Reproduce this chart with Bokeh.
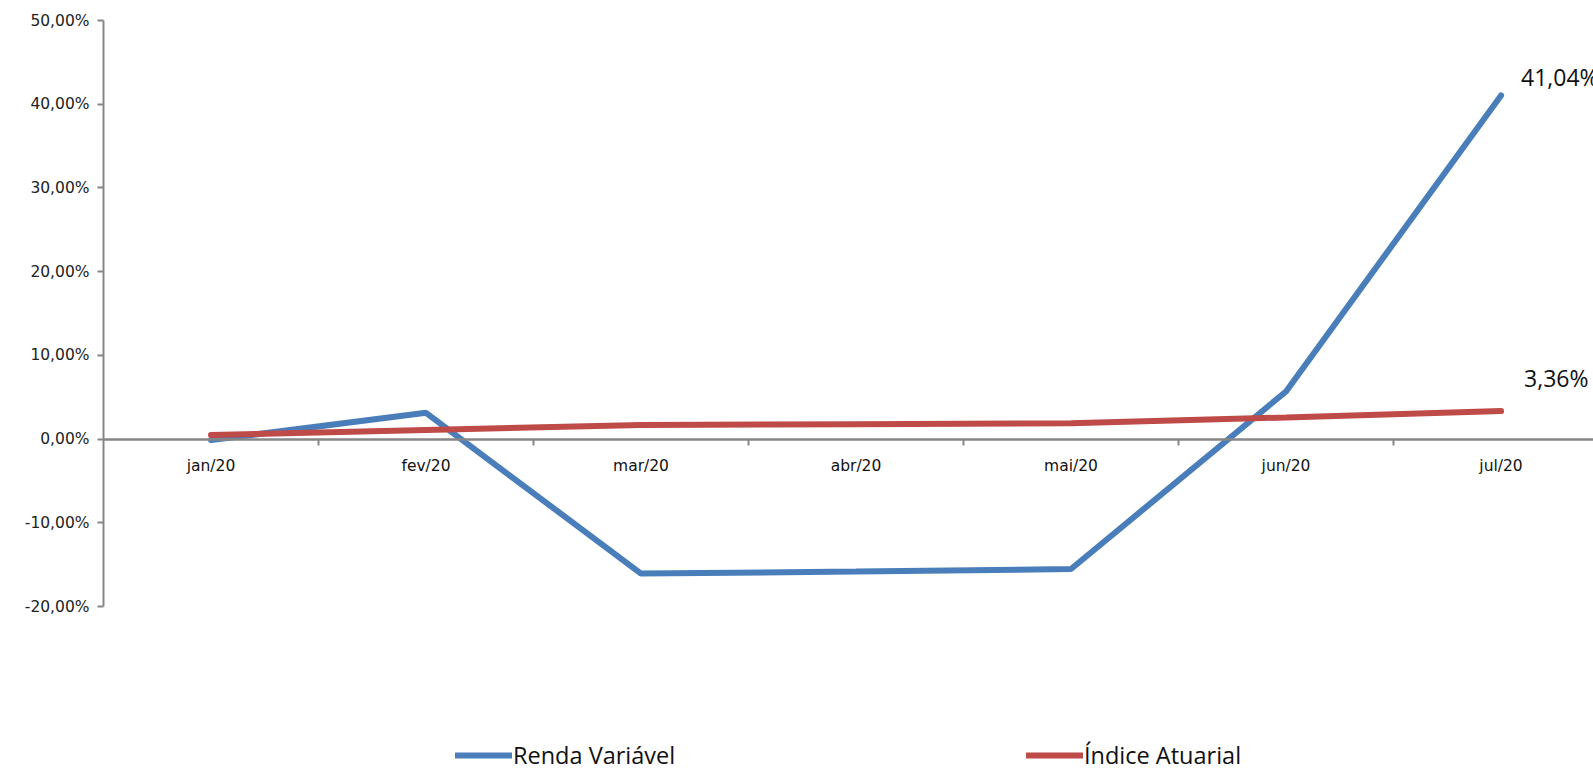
from bokeh.plotting import figure
from bokeh.models import (FixedTicker, CustomJSTickFormatter, LinearAxis, Legend, LegendItem, ColumnDataSource, Range1d)
from bokeh.core.properties import value
from bokeh.embed import file_html
from bokeh.resources import INLINE

months = ["jan/20", "fev/20", "mar/20", "abr/20", "mai/20", "jun/20", "jul/20"]
renda_variavel = [-0.10, 3.15, -16.05, -15.80, -15.50, 5.70, 41.04]
indice_atuarial = [0.50, 1.10, 1.70, 1.80, 1.90, 2.60, 3.36]
y_ticks = [-20, -10, 0, 10, 20, 30, 40, 50]

xs = list(range(len(months)))
FONT = "Open Sans"
AXFONT = "DejaVu Sans"
AXIS_COLOR = "#868686"
BLUE = "#4A7EBB"
RED = "#BE4B48"

# frame runs to the bottom of the page so the legend (inside the frame) is not clipped;
# the y axis line itself is limited to -20%..50% with bounds.
p = figure(width=1593, height=769, output_backend="svg", toolbar_location=None,
           x_range=Range1d(-0.5, 6.43), y_range=Range1d(-39.44, 50),
           x_axis_type=None, y_axis_type=None)
p.min_border_left = 103
p.min_border_right = 0
p.min_border_top = 20
p.min_border_bottom = 0
p.outline_line_color = None
p.grid.visible = False
p.background_fill_color = "white"
p.border_fill_color = "white"

# y axis
yax = LinearAxis(ticker=FixedTicker(ticks=y_ticks, minor_ticks=[]),
                 formatter=CustomJSTickFormatter(code="return tick.toFixed(2).replace('.', ',') + '%';"),
                 bounds=(y_ticks[0], y_ticks[-1]))
yax.axis_line_color = AXIS_COLOR
yax.axis_line_width = 2
yax.major_tick_line_color = AXIS_COLOR
yax.major_tick_line_width = 2
yax.major_tick_out = 6
yax.major_tick_in = 0
yax.minor_tick_line_color = None
yax.major_label_standoff = 8
yax.major_label_text_font = AXFONT
yax.major_label_text_font_size = "15.5px"
yax.major_label_text_color = "#222222"
p.add_layout(yax, "left")

# x axis with labels (at y = 0)
xlab = LinearAxis(ticker=FixedTicker(ticks=xs, minor_ticks=[]),
                  major_label_overrides={i: m for i, m in enumerate(months)},
                  fixed_location=0)
xlab.axis_line_color = AXIS_COLOR
xlab.axis_line_width = 2
xlab.major_tick_line_color = None
xlab.major_tick_out = 0
xlab.major_tick_in = 0
xlab.minor_tick_line_color = None
xlab.major_label_standoff = 18
xlab.major_label_text_font = AXFONT
xlab.major_label_text_font_size = "15.5px"
xlab.major_label_text_color = "#111111"
p.add_layout(xlab, "below")

# x axis tick marks between categories
boundaries = [i + 0.5 for i in xs[:-1]]
xtk = LinearAxis(ticker=FixedTicker(ticks=boundaries, minor_ticks=[]), fixed_location=0)
xtk.axis_line_color = AXIS_COLOR
xtk.axis_line_width = 2
xtk.major_tick_line_color = AXIS_COLOR
xtk.major_tick_line_width = 2
xtk.major_tick_out = 6
xtk.major_tick_in = 0
xtk.minor_tick_line_color = None
xtk.major_label_text_color = None
p.add_layout(xtk, "below")

src = ColumnDataSource(dict(x=xs, rv=renda_variavel, ia=indice_atuarial))
r1 = p.line("x", "rv", source=src, line_color=BLUE, line_width=6, line_cap="round")
r2 = p.line("x", "ia", source=src, line_color=RED, line_width=6, line_cap="round")

def fmt(v):
    return f"{v:.2f}".replace(".", ",") + "%"

p.text(x=[xs[-1]], y=[renda_variavel[-1]], text=[fmt(renda_variavel[-1])],
       x_offset=20, y_offset=-19, text_align="left", text_baseline="middle",
       text_font=value(FONT), text_font_size="23px", text_color="#111111")
p.text(x=[xs[-1]], y=[indice_atuarial[-1]], text=[fmt(indice_atuarial[-1])],
       x_offset=23, y_offset=-33, text_align="left", text_baseline="middle",
       text_font=value(FONT), text_font_size="23px", text_color="#111111")

def make_legend(label, renderer, loc):
    lg = Legend(items=[LegendItem(label=label, renderers=[renderer])], location=loc)
    lg.border_line_color = None
    lg.background_fill_alpha = 0
    lg.padding = 0
    lg.margin = 0
    lg.glyph_width = 57
    lg.glyph_height = 22
    lg.label_height = 22
    lg.label_standoff = 1
    lg.label_text_font = FONT
    lg.label_text_font_size = "23.5px"
    lg.label_text_color = "#111111"
    lg.label_text_baseline = "middle"
    return lg

p.add_layout(make_legend("Renda Variável", r1, (352, -2)), "center")
p.add_layout(make_legend("Índice Atuarial", r2, (923, -2)), "center")

open("out.html", "w").write(file_html(p, INLINE))
